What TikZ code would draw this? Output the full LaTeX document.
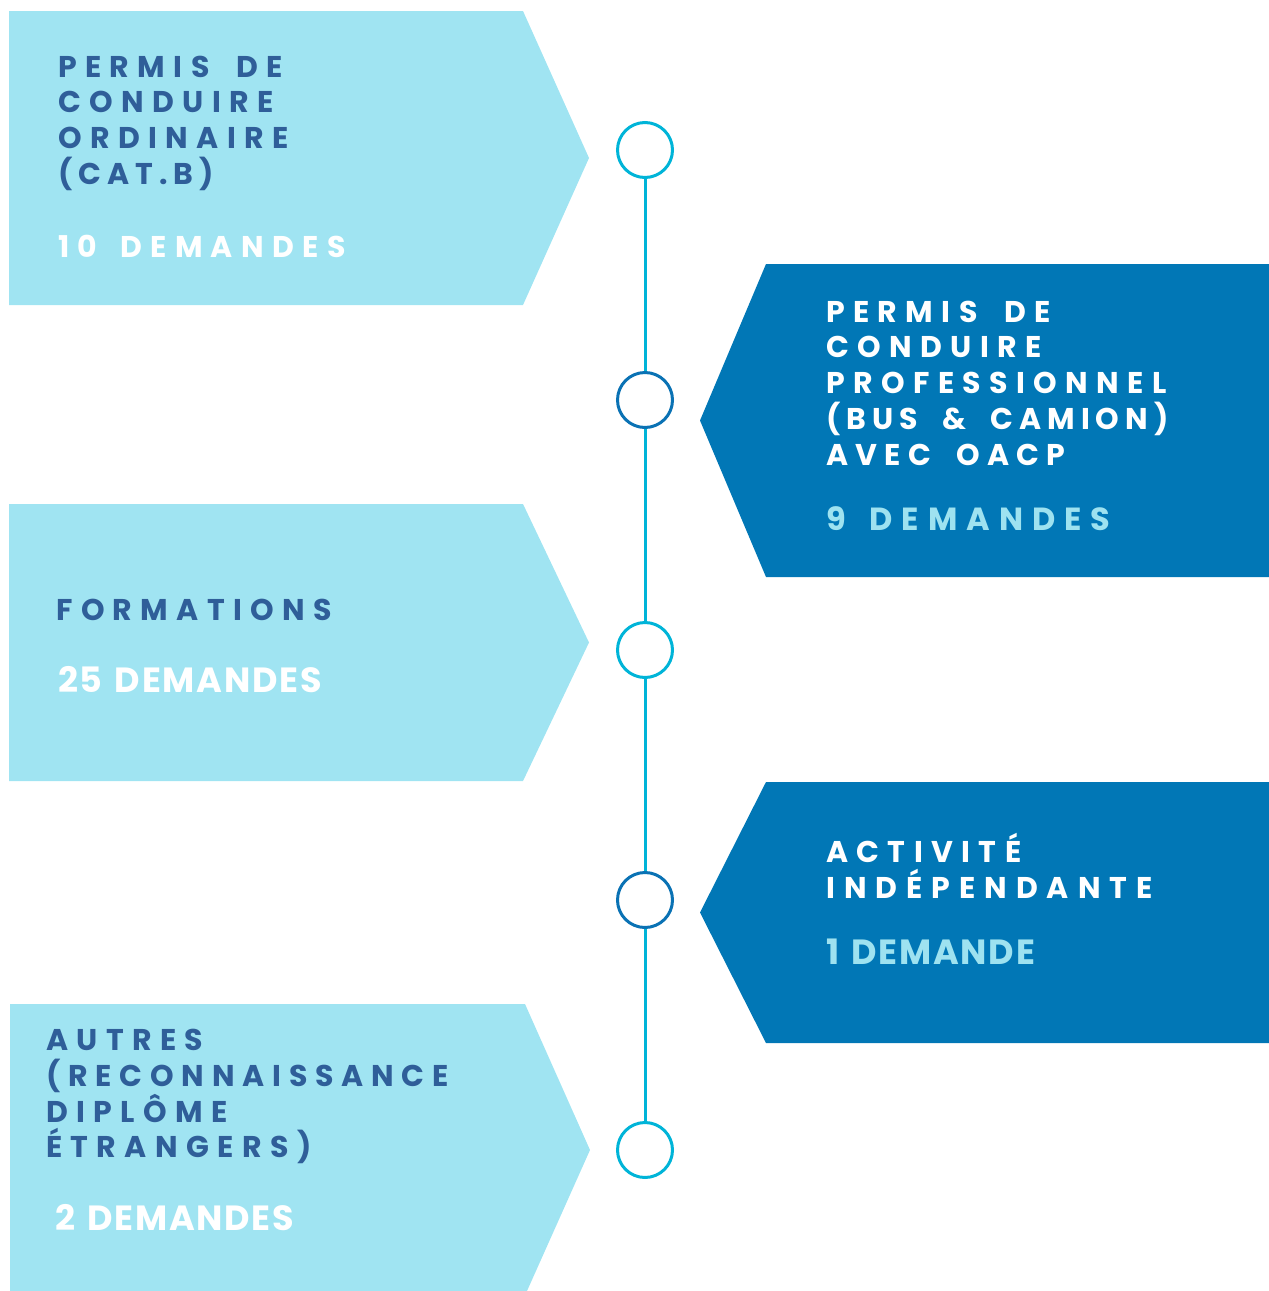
\documentclass[tikz,border=0pt]{standalone}
\usepackage{fontspec}
\setmainfont{Poppins}
\newfontfamily\trk[LetterSpace=28]{Poppins}
\newfontfamily\trkA[LetterSpace=20]{Poppins}
\newfontfamily\trkB[LetterSpace=24]{Poppins}
\newfontfamily\trkC[LetterSpace=26]{Poppins}
\newfontfamily\trkD[LetterSpace=30]{Poppins}
\newfontfamily\trn[LetterSpace=5]{Poppins}
\newcommand\tsp{ \hspace{12pt}}
\newcommand\csp{ \hspace{8pt}}
\newcommand\nsp{ \hspace{3pt}}
\definecolor{lightfill}{HTML}{A0E4F2}
\definecolor{darkfill}{HTML}{0177B6}
\definecolor{darktext}{HTML}{2F5E99}
\definecolor{lighttext}{HTML}{9EE2F0}
\definecolor{ringcyan}{HTML}{00B4D8}
\definecolor{ringdark}{HTML}{0A72B4}
\begin{document}
\begin{tikzpicture}[x=1pt,y=-1pt,
  ttl/.style={anchor=base west, inner sep=0pt, font={\fontsize{30}{36}\selectfont\trk\bfseries}},
  ttlA/.style={ttl, font={\fontsize{30}{36}\selectfont\trkA\bfseries}},
  ttlB/.style={ttl, font={\fontsize{30}{36}\selectfont\trkB\bfseries}},
  ttlC/.style={ttl, font={\fontsize{30}{36}\selectfont\trkC\bfseries}},
  ttlD/.style={ttl, font={\fontsize{30}{36}\selectfont\trkD\bfseries}},
  cntt/.style={anchor=base west, inner sep=0pt, font={\fontsize{30}{36}\selectfont\trk\bfseries}},
  cnttb/.style={anchor=base west, inner sep=0pt, font={\fontsize{32}{36}\selectfont\trk\bfseries}},
  cntn/.style={anchor=base west, inner sep=0pt, font={\fontsize{35}{36}\selectfont\trn\bfseries}},
  ring/.style={circle, draw, fill=white, line width=3pt, minimum size=55pt, inner sep=0pt},
  tline/.style={draw=ringcyan, line width=3pt}]
\useasboundingbox (0,0) rectangle (1269,1291);
% shapes
\fill[lightfill] (9,11) -- (523,11) -- (589,158) -- (523,305) -- (9,305) -- cycle;
\fill[darkfill] (1269,264) -- (766,264) -- (700,420.5) -- (766,577) -- (1269,577) -- cycle;
\fill[lightfill] (9,504) -- (523,504) -- (589,642.5) -- (523,781) -- (9,781) -- cycle;
\fill[darkfill] (1269,782) -- (766,782) -- (700,912.5) -- (766,1043) -- (1269,1043) -- cycle;
\fill[lightfill] (10,1004) -- (525,1004) -- (590,1150) -- (527,1291) -- (10,1291) -- cycle;
% rings
\node[ring, draw=ringcyan] (c1) at (645,150) {};
\node[ring, draw=ringdark] (c2) at (645,400) {};
\node[ring, draw=ringcyan] (c3) at (645,650) {};
\node[ring, draw=ringdark] (c4) at (645,900) {};
\node[ring, draw=ringcyan] (c5) at (645,1150) {};
\draw[tline] (c1) -- (c2);
\draw[tline] (c2) -- (c3);
\draw[tline] (c3) -- (c4);
\draw[tline] (c4) -- (c5);
% box 1
\node[ttl, text=darktext] (a1) at (58,77) {PERMIS\tsp DE};
\node[ttl, text=darktext] (a2) at (58,112) {CONDUIRE};
\node[ttl, text=darktext] (a3) at (58,148) {ORDINAIRE};
\node[ttlA, text=darktext] (a4) at (58,184) {(CAT.B)};
\node[cntt, text=white] (a5) at (58,257) {10\csp DEMANDES};
% box 2
\node[ttl, text=white] (b1) at (826,322) {PERMIS\tsp DE};
\node[ttl, text=white] (b2) at (826,357) {CONDUIRE};
\node[ttl, text=white] (b3) at (826,393) {PROFESSIONNEL};
\node[ttlA, text=white] (b4) at (826,429) {(BUS\tsp \&\tsp CAMION)};
\node[ttlB, text=white] (b5) at (826,465) {AVEC\tsp OACP};
\node[cnttb, text=lighttext] (b6) at (826,530) {9\csp DEMANDES};
% box 3
\node[ttl, text=darktext] (d1) at (56,620) {FORMATIONS};
\node[cntn, text=white] (d2) at (58,692) {25\nsp DEMANDES};
% box 4
\node[ttl, text=white] (e1) at (826,862) {ACTIVITÉ};
\node[ttlD, text=white] (e2) at (826,898) {INDÉPENDANTE};
\node[cntn, text=lighttext] (e3) at (826,964) {1\nsp DEMANDE};
% box 5
\node[ttl, text=darktext] (f1) at (46,1050) {AUTRES};
\node[ttlC, text=darktext] (f2) at (46,1086) {(RECONNAISSANCE};
\node[ttl, text=darktext] (f3) at (46,1122) {DIPLÔME};
\node[ttl, text=darktext] (f4) at (46,1157) {ÉTRANGERS)};
\node[cntn, text=white] (f5) at (55,1230) {2\nsp DEMANDES};
\end{tikzpicture}
\end{document}
